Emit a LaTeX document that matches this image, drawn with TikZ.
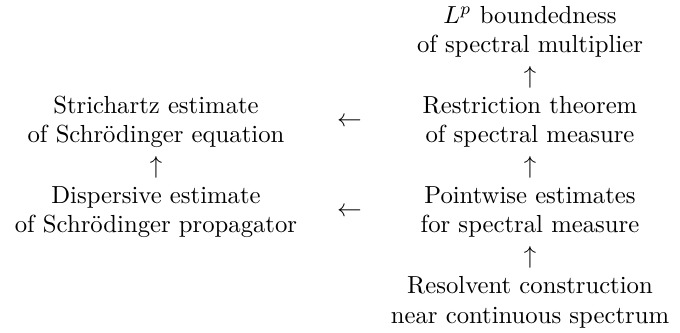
\documentclass[tikz,border=0pt]{standalone}
\usepackage{tikz}
\usetikzlibrary{positioning}
\tikzstyle{every node}=[inner sep=0pt]
\tikzstyle{textbox} = [align=center,text centered]
\tikzstyle{arrsym} = [inner sep=0pt]

\begin{document}
\begin{tikzpicture}[x=0.405pt,y=-0.405pt]
\useasboundingbox (0,0) rectangle (680,332);

\node (lp) [textbox] at (530,32) {$L^p$ boundedness\\of spectral multiplier};
\node (restr) [textbox] at (530,122) {Restriction theorem\\of spectral measure};
\node (point) [textbox] at (530,212) {Pointwise estimates\\for spectral measure};
\node (resolv) [textbox] at (530,302) {Resolvent construction\\near continuous spectrum};

\node (stri) [textbox] at (156,122) {Strichartz estimate\\of Schr\"odinger equation};
\node (disp) [textbox] at (156,212) {Dispersive estimate\\of Schr\"odinger propagator};

\path (restr) -- node[arrsym] {$\uparrow$} (lp);
\path (point) -- node[arrsym] {$\uparrow$} (restr);
\path (resolv) -- node[arrsym] {$\uparrow$} (point);
\path (disp) -- node[arrsym] {$\uparrow$} (stri);

\path (stri.center) -- node[arrsym,pos=0.517] {$\leftarrow$} (restr.center);
\path (disp.center) -- node[arrsym,pos=0.517] {$\leftarrow$} (point.center);

\end{tikzpicture}
\end{document}
